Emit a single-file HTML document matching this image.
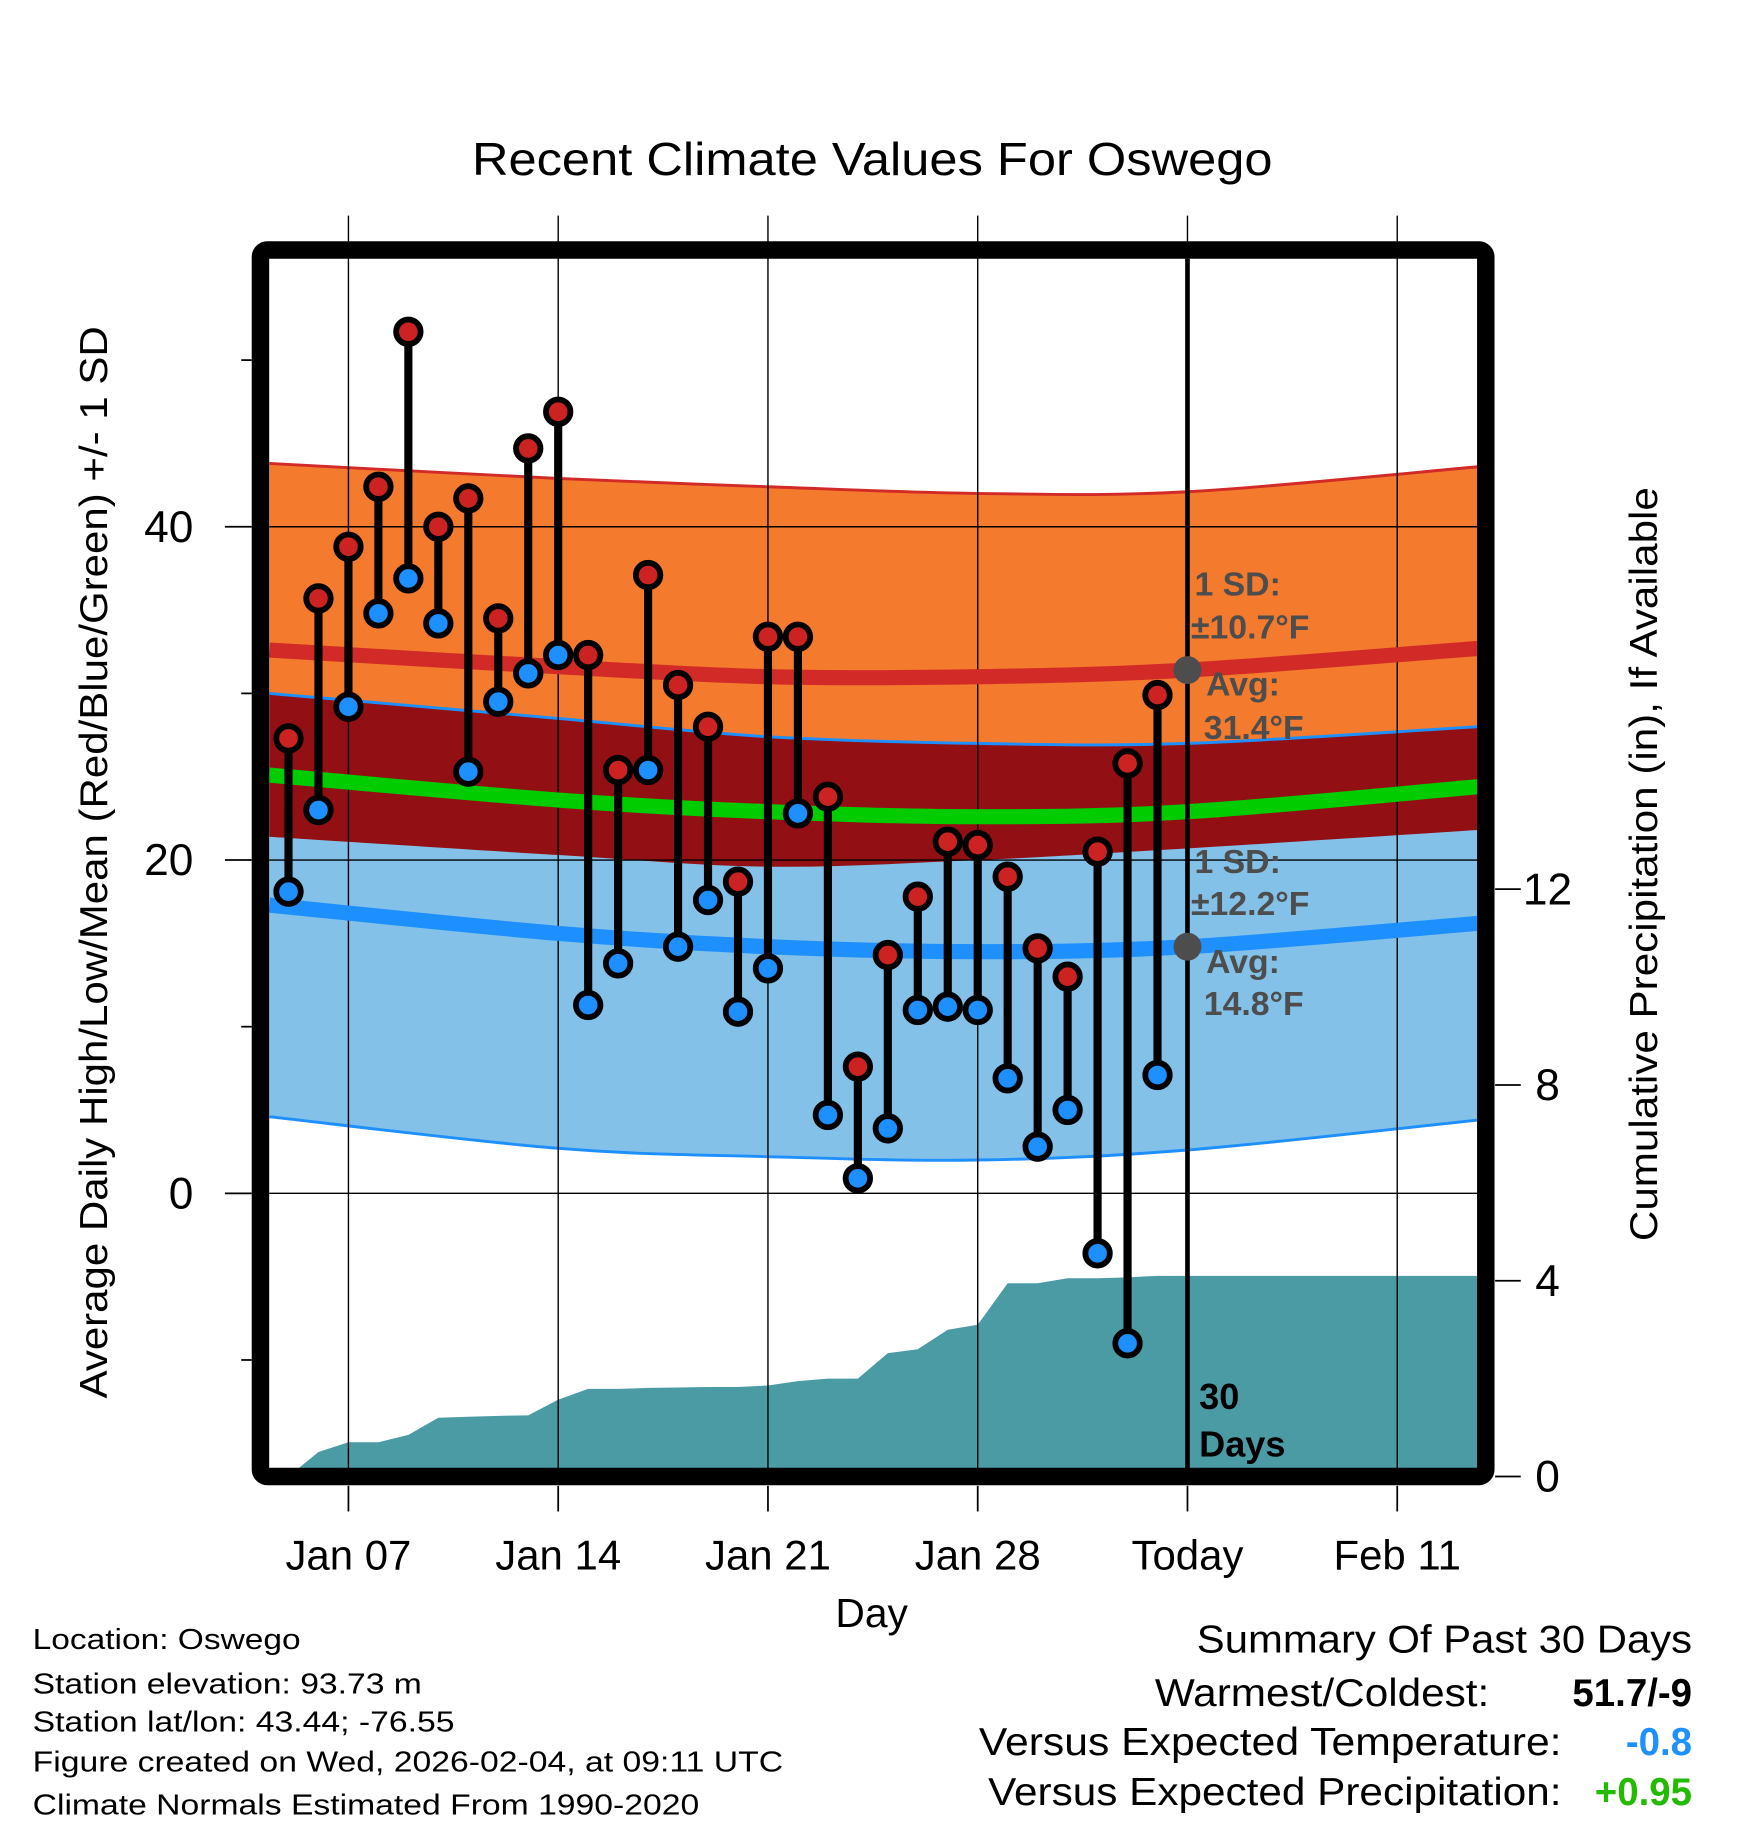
<!DOCTYPE html>
<html><head><meta charset="utf-8"><style>
html,body{margin:0;padding:0;background:#fff;}
svg{display:block;font-family:"Liberation Sans",Arial,sans-serif;}
</style></head><body>
<svg id="chart" width="1748" height="1828" viewBox="0 0 1500 1568.6" preserveAspectRatio="none" xmlns="http://www.w3.org/2000/svg">
<g id="bands"></g>
<g id="precip"></g>
<g id="grid"></g>
<g id="lines"></g>
<g id="marks"></g>
<g id="axes"></g>
<text x="405" y="150" font-size="40" textLength="687" lengthAdjust="spacingAndGlyphs">Recent Climate Values For Oswego</text>
<text transform="translate(92,1200) rotate(-90)" font-size="33" textLength="920" lengthAdjust="spacingAndGlyphs">Average Daily High/Low/Mean (Red/Blue/Green) +/- 1 SD</text>
<text transform="translate(1422,1065) rotate(-90)" font-size="33" textLength="647" lengthAdjust="spacingAndGlyphs">Cumulative Precipitation (in), If Available</text>
<text x="748" y="1396" text-anchor="middle" font-size="35">Day</text>
<g font-weight="bold" font-size="29" fill="#4d4d4d">
<text x="1025" y="511">1 SD:</text><text x="1022" y="548">±10.7°F</text>
<text x="1035" y="597">Avg:</text><text x="1033" y="634">31.4°F</text>
</g>
<g font-weight="bold" font-size="29" fill="#4d4d4d">
<text x="1025" y="749">1 SD:</text><text x="1022" y="785">±12.2°F</text>
<text x="1035" y="835">Avg:</text><text x="1033" y="871">14.8°F</text>
</g>
<g font-weight="bold" font-size="31" fill="#000">
<text x="1029" y="1209">30</text><text x="1029" y="1250">Days</text>
</g>
<g font-size="25" fill="#000">
<text x="28" y="1415" textLength="230" lengthAdjust="spacingAndGlyphs">Location: Oswego</text>
<text x="28" y="1453" textLength="334" lengthAdjust="spacingAndGlyphs">Station elevation: 93.73 m</text>
<text x="28" y="1486" textLength="362" lengthAdjust="spacingAndGlyphs">Station lat/lon: 43.44; -76.55</text>
<text x="28" y="1520" textLength="644" lengthAdjust="spacingAndGlyphs">Figure created on Wed, 2026-02-04, at 09:11 UTC</text>
<text x="28" y="1557" textLength="572" lengthAdjust="spacingAndGlyphs">Climate Normals Estimated From 1990-2020</text>
</g>
<g font-size="33" fill="#000">
<text x="1027" y="1418" textLength="425" lengthAdjust="spacingAndGlyphs">Summary Of Past 30 Days</text>
<text x="991" y="1464" textLength="287" lengthAdjust="spacingAndGlyphs">Warmest/Coldest:</text>
<text x="1452" y="1464" text-anchor="end" font-weight="bold">51.7/-9</text>
<text x="840" y="1506" textLength="500" lengthAdjust="spacingAndGlyphs">Versus Expected Temperature:</text>
<text x="1452" y="1506" text-anchor="end" font-weight="bold" fill="#1e90ff">-0.8</text>
<text x="848" y="1549" textLength="492" lengthAdjust="spacingAndGlyphs">Versus Expected Precipitation:</text>
<text x="1452" y="1549" text-anchor="end" font-weight="bold" fill="#22bb00">+0.95</text>
</g>
</svg>
<script>
// ---- data ----
const days = [5,6,7,8,9,10,11,12,13,14,15,16,17,18,19,20,21,22,23,24,25,26,27,28,29,30,31,32,33,34];
const highs = [27.3,35.7,38.8,42.4,51.7,40.0,41.7,34.5,44.7,46.9,32.3,25.4,37.1,30.5,28.0,18.7,33.4,33.4,23.8,7.6,14.3,17.8,21.1,20.9,19.0,14.7,13.0,20.5,25.8,29.9];
const lows = [18.1,23.0,29.2,34.8,36.9,34.2,25.3,29.5,31.2,32.3,11.3,13.8,25.4,14.8,17.6,10.9,13.5,22.8,4.7,0.9,3.9,11.0,11.2,11.0,6.9,2.8,5.0,-3.6,-9.0,7.1];
const precipCum = [0.0,0.5,0.7,0.7,0.85,1.2,1.22,1.24,1.25,1.57,1.79,1.79,1.81,1.82,1.83,1.83,1.86,1.95,2.0,2.0,2.52,2.6,3.0,3.1,3.95,3.95,4.05,4.05,4.07,4.1];
const normDays = [4.36,14,21,28,35,44.7];
const avgHigh = [32.6,31.6,31.0,31.0,31.4,32.7];
const sdHigh = [11.2,11.3,11.4,11.0,10.7,10.9];
const avgLow = [17.3,15.6,14.8,14.5,14.8,16.2];
const sdLow = [12.7,12.9,12.6,12.5,12.2,11.8];
const avgMean = [25.1,23.6,22.9,22.6,22.9,24.4];
const xTickDays = [7,14,21,28,35,42];
const xTickLabels = ["Jan 07","Jan 14","Jan 21","Jan 28","Today","Feb 11"];
const yTicks = [0,20,40];
const yMinor = [-10,10,30,50];
const y2Ticks = [0,4,8,12];
const todayDay = 35;

// ---- axes ----
const L=231,R=1268,T=222,B=1260;
const X = d => 299 + (d-7)*180/7;
const Y = v => 1024 - v*14.3;
const Y2 = v => 1267 - v*42;
const NS="http://www.w3.org/2000/svg";
function mk(tag, parent, attrs){const e=document.createElementNS(NS,tag);for(const k in attrs)e.setAttribute(k,attrs[k]);parent.appendChild(e);return e;}
function smooth(pts){
  let d=`M${pts[0][0]},${pts[0][1]}`;
  for(let i=0;i<pts.length-1;i++){
    const p0=pts[Math.max(0,i-1)],p1=pts[i],p2=pts[i+1],p3=pts[Math.min(pts.length-1,i+2)];
    d+=` C${p1[0]+(p2[0]-p0[0])/6},${p1[1]+(p2[1]-p0[1])/6} ${p2[0]-(p3[0]-p1[0])/6},${p2[1]-(p3[1]-p1[1])/6} ${p2[0]},${p2[1]}`;
  }
  return d;
}
function curve(vals){return normDays.map((d,i)=>[X(d),Y(vals[i])]);}
function bandPath(top,bot){
  const a=smooth(curve(top)); const b=curve(bot).reverse();
  return a+" L"+smooth(b).slice(1)+" Z";
}
const hiTop=avgHigh.map((v,i)=>v+sdHigh[i]), hiBot=avgHigh.map((v,i)=>v-sdHigh[i]);
const loTop=avgLow.map((v,i)=>v+sdLow[i]), loBot=avgLow.map((v,i)=>v-sdLow[i]);
const bands=document.getElementById('bands');
let e;
e=mk('path',bands,{d:bandPath(hiTop,hiBot),fill:'#f47a2e'});


e=mk('path',bands,{d:bandPath(loTop,loBot),fill:'#83c1e8'});


e=mk('path',bands,{d:bandPath(loTop,hiBot),fill:'#921014'});


[[hiTop,'#d12a27'],[loBot,'#1e8fff'],[loTop,'#1e8fff']].forEach(([v,c])=>{
  e=mk('path',bands,{d:smooth(curve(v)),fill:'none',stroke:c,'stroke-width':2.5});
  
  
});

// precip
const pr=document.getElementById('precip');
let pd=`M${X(days[0])},${Y2(0)}`;
days.forEach((d,i)=>{pd+=` L${X(d)},${Y2(precipCum[i])}`;});
pd+=` L${R},${Y2(precipCum[precipCum.length-1])} L${R},${Y2(0)} Z`;
e=mk('path',pr,{d:pd,fill:'#4a9ba4'});



// grid
const g=document.getElementById('grid');
xTickDays.forEach(d=>{
  e=mk('line',g,{x1:X(d),x2:X(d),y1:185,y2:B,stroke:'#000','stroke-width':1.2});
  
  
});
yTicks.forEach(v=>{
  e=mk('line',g,{x1:L,x2:R,y1:Y(v),y2:Y(v),stroke:'#000','stroke-width':1.2});
  
  
});

// normal lines
const ln=document.getElementById('lines');
[[avgHigh,'#d12a27','avg-high-line'],[avgLow,'#1e8fff','avg-low-line'],[avgMean,'#00cc00','avg-mean-line']].forEach(([v,c,n])=>{
  e=mk('path',ln,{d:smooth(curve(v)),fill:'none',stroke:c,'stroke-width':13});
  
  
});
e=mk('line',ln,{x1:X(todayDay),x2:X(todayDay),y1:T,y2:B,stroke:'#000','stroke-width':4});


e=mk('circle',ln,{cx:X(todayDay),cy:Y(avgHigh[4]),r:12,fill:'#4d4d4d'});


e=mk('circle',ln,{cx:X(todayDay),cy:Y(avgLow[4]),r:12,fill:'#4d4d4d'});



// stems
const mkg=document.getElementById('marks');
days.forEach((d,i)=>{
  e=mk('line',mkg,{x1:X(d),x2:X(d),y1:Y(highs[i]),y2:Y(lows[i]),stroke:'#000','stroke-width':7});
  
  
  e=mk('circle',mkg,{cx:X(d),cy:Y(highs[i]),r:10.5,fill:'#cc2222',stroke:'#000','stroke-width':5});
  
  
  e=mk('circle',mkg,{cx:X(d),cy:Y(lows[i]),r:10.5,fill:'#1e8fff',stroke:'#000','stroke-width':5});
  
  
});

// axes
const ax=document.getElementById('axes');
e=mk('rect',ax,{x:223.5,y:214.5,width:1051.5,height:1052.5,rx:6,fill:'none',stroke:'#000','stroke-width':15});


xTickDays.forEach((d,i)=>{
  e=mk('line',ax,{x1:X(d),x2:X(d),y1:1275,y2:1297,stroke:'#000','stroke-width':1.5});
  
  
  e=mk('text',ax,{x:X(d),y:1347,'text-anchor':'middle','font-size':36});
  e.textContent=xTickLabels[i];
  
  
});
yTicks.forEach(v=>{
  e=mk('line',ax,{x1:193,x2:216,y1:Y(v),y2:Y(v),stroke:'#000','stroke-width':1.5});
  
  
  e=mk('text',ax,{x:166,y:Y(v)+13,'text-anchor':'end','font-size':38});
  e.textContent=String(v);
  
  
});
yMinor.forEach(v=>{
  e=mk('line',ax,{x1:207,x2:216,y1:Y(v),y2:Y(v),stroke:'#000','stroke-width':1.5});
  
  
});
y2Ticks.forEach(v=>{
  e=mk('line',ax,{x1:1283,x2:1305,y1:Y2(v),y2:Y2(v),stroke:'#000','stroke-width':1.5});
  
  
  e=mk('text',ax,{x:1328,y:Y2(v)+13,'text-anchor':'middle','font-size':38});
  e.textContent=String(v);
  
  
});
</script>
</body></html>
